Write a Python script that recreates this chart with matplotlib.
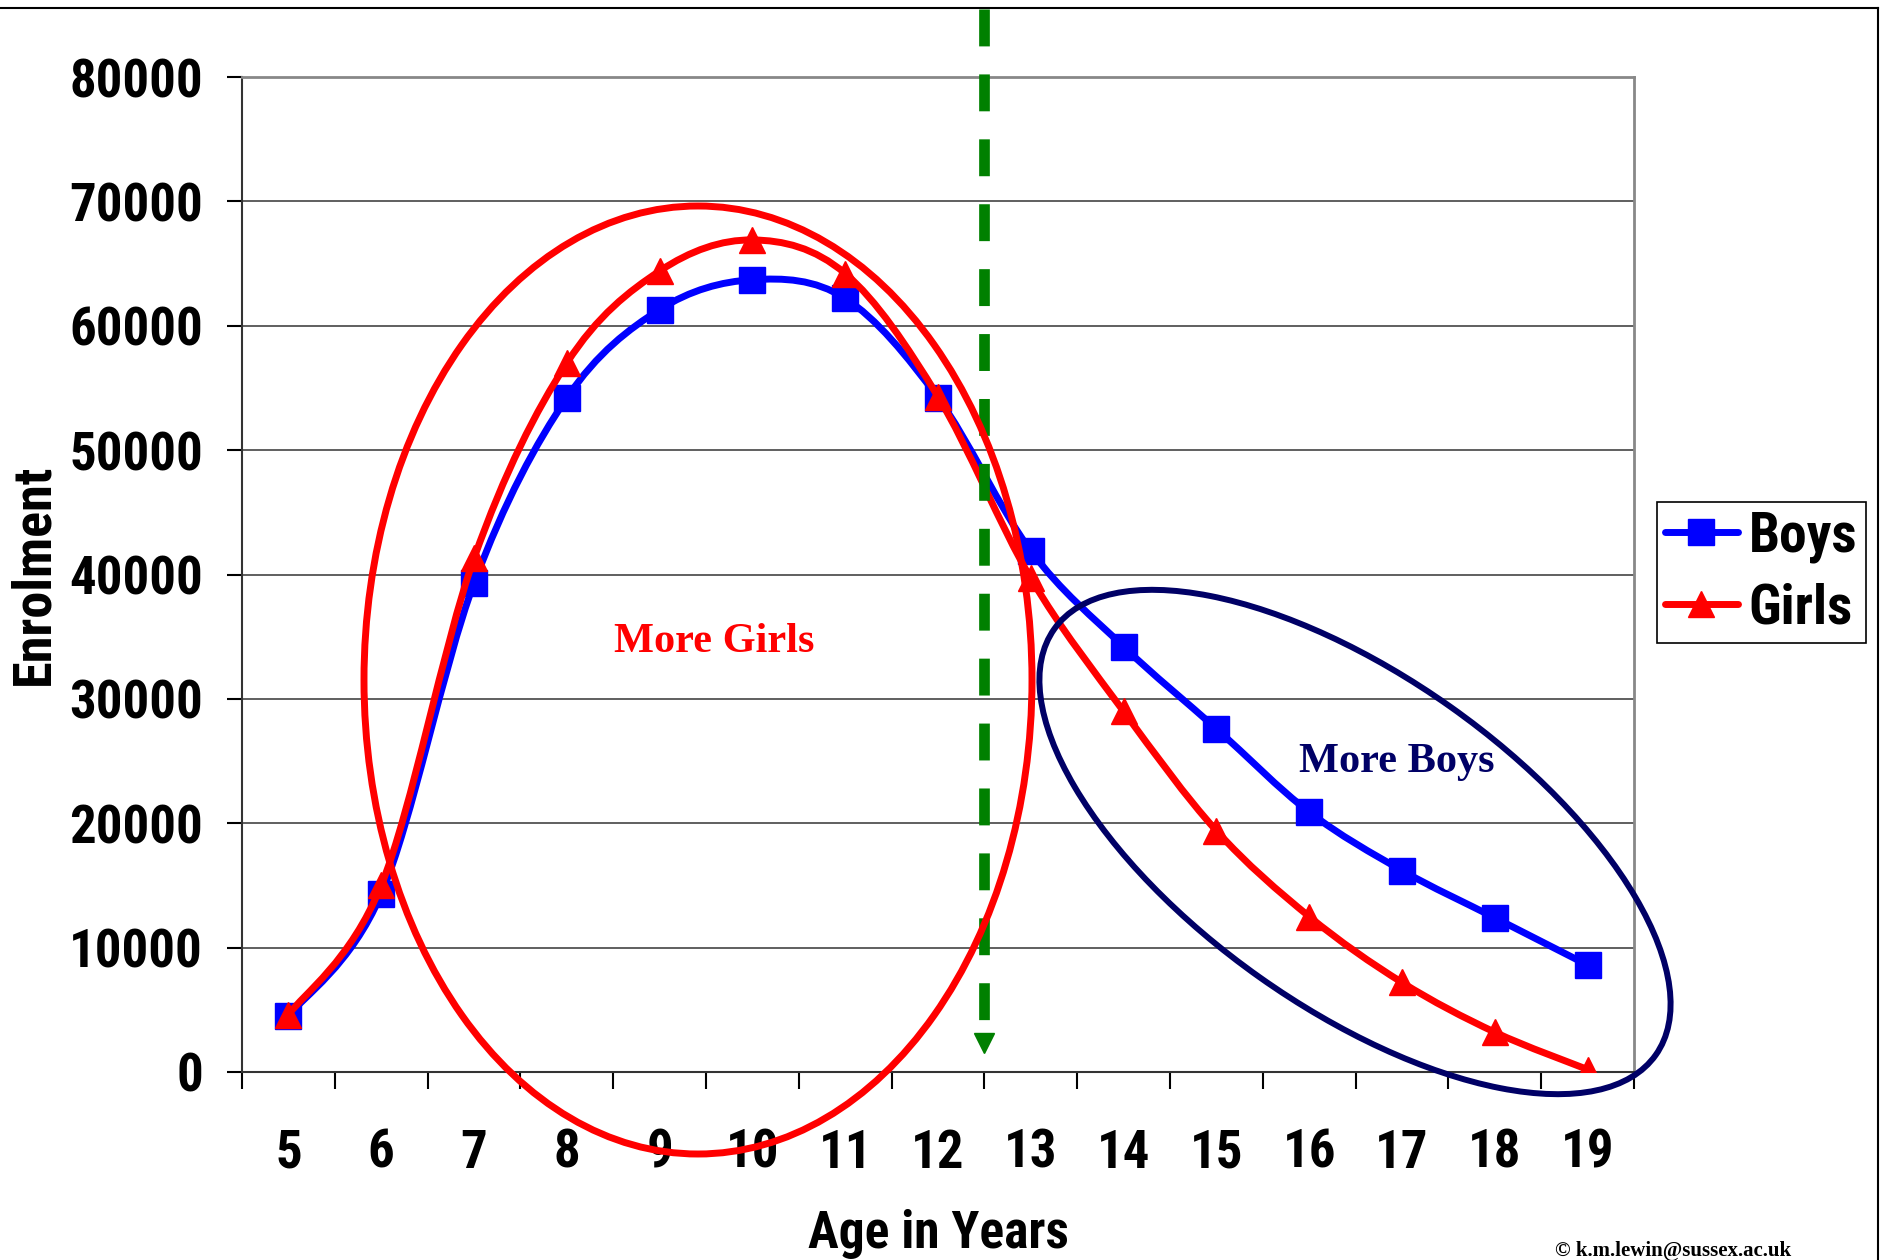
import os
import matplotlib
matplotlib.use("Agg")
import matplotlib.pyplot as plt
from matplotlib import font_manager
from matplotlib.font_manager import FontProperties
from matplotlib.path import Path
from matplotlib.patches import PathPatch, Ellipse
from matplotlib.lines import Line2D

# dades llegides de la gràfica
ages = [5, 6, 7, 8, 9, 10, 11, 12, 13, 14, 15, 16, 17, 18, 19]
boys = [4500, 14300, 39300, 54200, 61300, 63700, 62200, 54200, 41900, 34200, 27600, 20900, 16200, 12400, 8600]
girls = [4600, 15000, 41300, 57000, 64400, 66900, 64200, 54300, 39700, 29000, 19400, 12500, 7200, 3200, 200]
y_ticks = [0, 10000, 20000, 30000, 40000, 50000, 60000, 70000, 80000]


def busca_estreta():
    # busco un fitxer de font estreta i negreta
    fitxers = [f.fname for f in font_manager.fontManager.ttflist]
    preferits = ["liberationsansnarrow-bold.", "arialnarrow-bold", "arialnb.",
                 "notosans-condensedbold.", "notosans-condensed-bold",
                 "robotocondensed-bold.", "dejavusanscondensed-bold.",
                 "opensans-condensedbold", "opensans_condensed-bold"]
    for p in preferits:
        for f in fitxers:
            if os.path.basename(f).lower().startswith(p):
                return FontProperties(fname=f)
    for f in fitxers:
        b = os.path.basename(f).lower()
        if ("narrow" in b or ("condensed" in b and "semi" not in b and "extra" not in b)) \
                and "bold" in b and "italic" not in b and "semibold" not in b and "extrabold" not in b:
            return FontProperties(fname=f)
    return None


fp_base = busca_estreta()
estreta_ok = fp_base is not None
if not estreta_ok:
    fp_base = FontProperties(family="Liberation Sans", weight="bold")


def fp(mida):
    p = fp_base.copy()
    p.set_size(mida)
    return p


def corba_suau(xs, ys):
    # corba tipus Excel (Catmull-Rom amb Bezier)
    pts = list(zip(xs, ys))
    n = len(pts)
    verts = [pts[0]]
    codes = [Path.MOVETO]
    for i in range(n - 1):
        p0 = pts[i - 1] if i > 0 else pts[i]
        p1 = pts[i]
        p2 = pts[i + 1]
        p3 = pts[i + 2] if i + 2 < n else pts[i + 1]
        c1 = (p1[0] + (p2[0] - p0[0]) / 6, p1[1] + (p2[1] - p0[1]) / 6)
        c2 = (p2[0] - (p3[0] - p1[0]) / 6, p2[1] - (p3[1] - p1[1]) / 6)
        verts += [c1, c2, p2]
        codes += [Path.CURVE4] * 3
    return Path(verts, codes)


mida_ticks = 38 if estreta_ok else 33
mida_label = 37 if estreta_ok else 32

fig = plt.figure(figsize=(18.81, 12.6), dpi=100)
ax = fig.add_axes([242 / 1881, 1 - 1072 / 1260, 1392 / 1881, 995 / 1260])

ax.set_xlim(4.5, 19.5)
ax.set_ylim(0, 80000)

# línies suaus + marcadors
for valors, color, marca in [(boys, "#0000ff", "s"), (girls, "#ff0000", "^")]:
    ax.add_patch(PathPatch(corba_suau(ages, valors), fill=False, edgecolor=color,
                           lw=5, capstyle="round", joinstyle="round", zorder=3))
    ax.plot(ages, valors, linestyle="none", marker=marca, ms=19, color=color, zorder=3)

# eixos
ax.set_yticks(y_ticks)
ax.set_yticklabels([str(v) for v in y_ticks])
ax.set_xticks([a - 0.5 for a in ages] + [19.5])
ax.set_xticklabels([""] * 16)
ax.set_xticks(ages, minor=True)
ax.set_xticklabels([str(a) for a in ages], minor=True)
ax.tick_params(axis="y", length=11, width=1.5, pad=17)
ax.tick_params(axis="x", which="major", length=12, width=1.5, direction="out")
ax.tick_params(axis="x", which="minor", length=0, pad=40)
for lbl in ax.get_yticklabels() + ax.get_xticklabels(minor=True):
    lbl.set_fontproperties(fp(mida_ticks))
ax.yaxis.grid(True, color="#444444", lw=1.2)
ax.set_axisbelow(True)
for s in ["top", "right"]:
    ax.spines[s].set_color("#888888")
    ax.spines[s].set_linewidth(2)
for s in ["left", "bottom"]:
    ax.spines[s].set_color("#333333")
    ax.spines[s].set_linewidth(1.5)

ax.set_ylabel("Enrolment", fontproperties=fp(mida_label + 2))
ax.yaxis.set_label_coords(-0.131, 0.5)
ax.set_xlabel("Age in Years", fontproperties=fp(mida_label))
ax.xaxis.set_label_coords(0.5, -0.138)

# fletxa verda discontínua entre 12 i 13
ax.plot([12.5, 12.5], [85468, 3860], color="#008000", lw=7.7, dashes=(3.45, 2.62),
        solid_capstyle="butt", dash_capstyle="butt", clip_on=False, zorder=4)
ax.plot([12.5], [2332], marker="v", ms=15, color="#008000", clip_on=False, zorder=4)

# el·lipses
ax.add_patch(Ellipse((6.98, 5.80), 6.68, 9.48, transform=fig.dpi_scale_trans,
                     fill=False, edgecolor="#ff0000", lw=5, clip_on=False, zorder=5))
ax.add_patch(Ellipse((13.55, 4.18), 7.37, 3.31, angle=-35.3, transform=fig.dpi_scale_trans,
                     fill=False, edgecolor="#000066", lw=4.3, clip_on=False, zorder=5))

fig.text(714 / 1881, 1 - 652 / 1260, "More Girls", color="#ff0000", fontsize=30.5,
         family="Liberation Serif", weight="bold", ha="center", va="baseline")
fig.text(1397 / 1881, 1 - 772 / 1260, "More Boys", color="#000066", fontsize=30.5,
         family="Liberation Serif", weight="bold", ha="center", va="baseline")
fig.text(1791 / 1881, 1 - 1256 / 1260, "© k.m.lewin@sussex.ac.uk", color="black", fontsize=15,
         family="Liberation Serif", weight="bold", ha="right", va="baseline")

# llegenda
handles = [
    Line2D([], [], color="#0000ff", lw=5, marker="s", ms=19, solid_capstyle="round"),
    Line2D([], [], color="#ff0000", lw=5, marker="^", ms=19, solid_capstyle="round"),
]
leg = fig.legend(handles, ["Boys", "Girls"], loc="upper left",
                 bbox_to_anchor=(1657 / 1881, 1 - 502 / 1260), bbox_transform=fig.transFigure,
                 prop=fp(40 if estreta_ok else 34),
                 fancybox=False, framealpha=1, edgecolor="black", borderpad=0.15,
                 handlelength=1.3, handletextpad=0.2, labelspacing=0.35, borderaxespad=0)
leg.get_frame().set_linewidth(1.2)

# marc de la figura (dalt i dreta)
fig.add_artist(Line2D([0, 1878 / 1881], [1 - 8 / 1260] * 2, transform=fig.transFigure,
                      color="black", lw=1.5))
fig.add_artist(Line2D([1878 / 1881] * 2, [0, 1 - 8 / 1260], transform=fig.transFigure,
                      color="black", lw=1.5))

fig.savefig("out.png", dpi=100)
